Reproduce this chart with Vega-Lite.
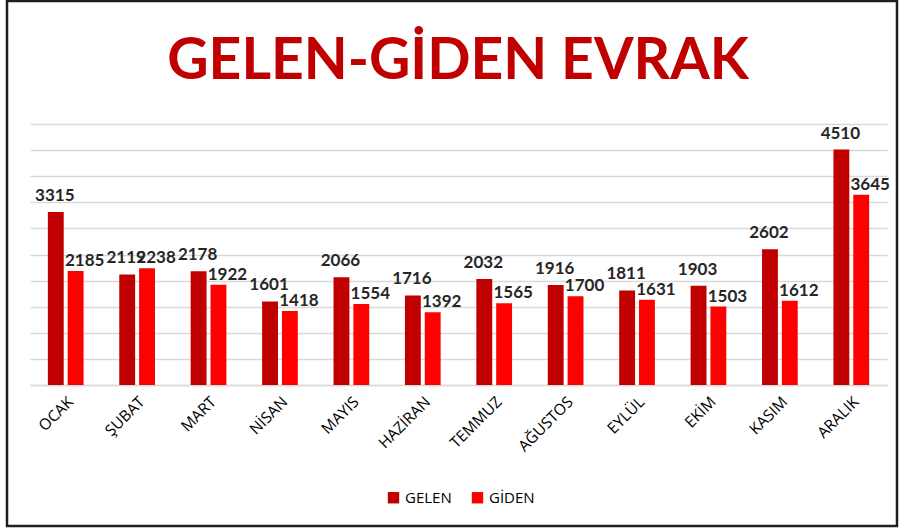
{
  "$schema": "https://vega.github.io/schema/vega-lite/v6.json",
  "width": 890,
  "height": 525,
  "autosize": {"type": "none"},
  "padding": {"left": 7, "top": 1, "right": 5, "bottom": 3},
  "background": "white",
  "title": {
    "text": "GELEN-GİDEN EVRAK",
    "font": "Lato",
    "fontSize": 57,
    "fontWeight": "bold",
    "color": "#C00000",
    "anchor": "middle",
    "offset": 0,
    "dy": 147,
    "dx": 6,
    "baseline": "bottom"
  },
  "data": {
    "values": [
      {"ay": "OCAK", "tur": "GELEN", "deger": 3315},
      {"ay": "OCAK", "tur": "GİDEN", "deger": 2185},
      {"ay": "ŞUBAT", "tur": "GELEN", "deger": 2119},
      {"ay": "ŞUBAT", "tur": "GİDEN", "deger": 2238},
      {"ay": "MART", "tur": "GELEN", "deger": 2178},
      {"ay": "MART", "tur": "GİDEN", "deger": 1922},
      {"ay": "NİSAN", "tur": "GELEN", "deger": 1601},
      {"ay": "NİSAN", "tur": "GİDEN", "deger": 1418},
      {"ay": "MAYIS", "tur": "GELEN", "deger": 2066},
      {"ay": "MAYIS", "tur": "GİDEN", "deger": 1554},
      {"ay": "HAZİRAN", "tur": "GELEN", "deger": 1716},
      {"ay": "HAZİRAN", "tur": "GİDEN", "deger": 1392},
      {"ay": "TEMMUZ", "tur": "GELEN", "deger": 2032},
      {"ay": "TEMMUZ", "tur": "GİDEN", "deger": 1565},
      {"ay": "AĞUSTOS", "tur": "GELEN", "deger": 1916},
      {"ay": "AĞUSTOS", "tur": "GİDEN", "deger": 1700},
      {"ay": "EYLÜL", "tur": "GELEN", "deger": 1811},
      {"ay": "EYLÜL", "tur": "GİDEN", "deger": 1631},
      {"ay": "EKİM", "tur": "GELEN", "deger": 1903},
      {"ay": "EKİM", "tur": "GİDEN", "deger": 1503},
      {"ay": "KASIM", "tur": "GELEN", "deger": 2602},
      {"ay": "KASIM", "tur": "GİDEN", "deger": 1612},
      {"ay": "ARALIK", "tur": "GELEN", "deger": 4510},
      {"ay": "ARALIK", "tur": "GİDEN", "deger": 3645}
    ]
  },
  "encoding": {
    "x": {
      "field": "ay",
      "type": "nominal",
      "sort": null,
      "scale": {"range": [23, 880], "paddingInner": 0.5, "paddingOuter": 0.25},
      "axis": {
        "title": null,
        "offset": -141,
        "labelAngle": -45,
        "labelFont": "Open Sans",
        "labelFontSize": 15.5,
        "labelColor": "#000000",
        "ticks": false,
        "domainColor": "#d9d9d9",
        "domainWidth": 1.5,
        "labelPadding": 9
      }
    },
    "xOffset": {
      "field": "tur",
      "type": "nominal",
      "sort": ["GELEN", "GİDEN"],
      "scale": {"paddingInner": 0.2, "paddingOuter": 0}
    },
    "y": {
      "field": "deger",
      "type": "quantitative",
      "scale": {"domain": [0, 5000], "range": [384, 123], "nice": false, "zero": true},
      "axis": {
        "title": null,
        "labels": false,
        "ticks": false,
        "domain": false,
        "grid": true,
        "gridColor": "#d9d9d9",
        "gridWidth": 1.5,
        "values": [0, 500, 1000, 1500, 2000, 2500, 3000, 3500, 4000, 4500, 5000]
      }
    }
  },
  "layer": [
    {
      "mark": {"type": "bar"},
      "encoding": {
        "color": {
          "field": "tur",
          "type": "nominal",
          "sort": ["GELEN", "GİDEN"],
          "scale": {"domain": ["GELEN", "GİDEN"], "range": ["#C00000", "#FF0000"]},
          "legend": {
            "title": null,
            "orient": "none",
            "legendX": 379,
            "legendY": 489,
            "direction": "horizontal",
            "symbolType": "square",
            "symbolSize": 130,
            "symbolStrokeWidth": 0,
            "labelFont": "Open Sans",
            "labelFontSize": 15,
            "labelColor": "#000000",
            "columnPadding": 18
          }
        }
      }
    },
    {
      "transform": [{"filter": "datum.tur === 'GELEN'"}],
      "mark": {
        "type": "text",
        "dy": -7,
        "dx": -1,
        "baseline": "bottom",
        "font": "Lato",
        "fontWeight": "bold",
        "fontSize": 17,
        "color": "#262626"
      },
      "encoding": {
        "text": {"field": "deger", "type": "quantitative", "format": "d"}
      }
    },
    {
      "transform": [{"filter": "datum.tur === 'GİDEN'"}],
      "mark": {
        "type": "text",
        "dy": -1,
        "dx": 9,
        "baseline": "bottom",
        "font": "Lato",
        "fontWeight": "bold",
        "fontSize": 17,
        "color": "#262626"
      },
      "encoding": {
        "text": {"field": "deger", "type": "quantitative", "format": "d"}
      }
    }
  ],
  "config": {
    "view": {"stroke": "#1f1f1f", "strokeWidth": 2.5}
  }
}
